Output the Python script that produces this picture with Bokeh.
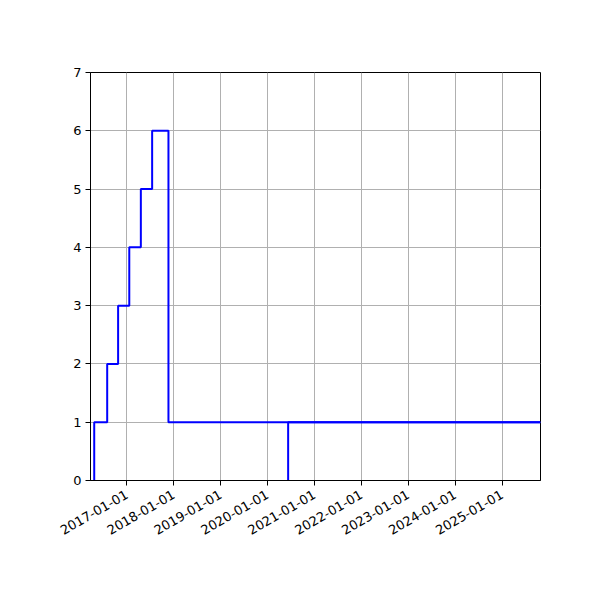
import math
import pandas as pd
from bokeh.plotting import figure
from bokeh.models import Range1d, FixedTicker, DatetimeTickFormatter, ColumnDataSource
from bokeh.embed import file_html
from bokeh.resources import INLINE

# ---- data ----
start_date = "2016-04-22"          # series starts at 0 here
step_dates = ["2016-04-22", "2016-08-01", "2016-10-25", "2017-01-20",
              "2017-04-20", "2017-07-17", "2017-11-21"]
step_counts = [1, 2, 3, 4, 5, 6, 1]
spike_date = "2020-06-10"          # second series: 0 -> 1
spike_counts = [0, 1, 1]
x_start = "2016-03-24"
x_end = "2025-10-27"
tick_labels = ["2017-01-01", "2018-01-01", "2019-01-01", "2020-01-01",
               "2021-01-01", "2022-01-01", "2023-01-01", "2024-01-01",
               "2025-01-01"]
y_ticks = [0, 1, 2, 3, 4, 5, 6, 7]


def ms(d):
    return pd.Timestamp(d).value / 1e6


xs1 = [pd.Timestamp(start_date)] + [pd.Timestamp(d) for d in step_dates] + [pd.Timestamp(x_end)]
ys1 = [0] + step_counts + [step_counts[-1]]
src1 = ColumnDataSource(dict(x=xs1, y=ys1))

xs2 = [pd.Timestamp(spike_date), pd.Timestamp(spike_date), pd.Timestamp(x_end)]
src2 = ColumnDataSource(dict(x=xs2, y=spike_counts))

p = figure(width=584, height=584, x_axis_type="datetime",
           output_backend="svg", toolbar_location=None,
           x_range=Range1d(pd.Timestamp(x_start), pd.Timestamp(x_end)),
           y_range=Range1d(0, 7),
           min_border_left=90, min_border_right=44,
           min_border_top=72, min_border_bottom=104)

p.step("x", "y", source=src1, mode="after", line_color="#0000ff", line_width=2)
p.step("x", "y", source=src2, mode="after", line_color="#0000ff", line_width=2)

p.xaxis.ticker = FixedTicker(ticks=[ms(t) for t in tick_labels])
p.xaxis.formatter = DatetimeTickFormatter(
    years="%Y-%m-%d", months="%Y-%m-%d", days="%Y-%m-%d",
    hours="%Y-%m-%d", minutes="%Y-%m-%d", seconds="%Y-%m-%d",
    milliseconds="%Y-%m-%d", microseconds="%Y-%m-%d")
p.xaxis.major_label_orientation = math.pi / 6
p.yaxis.ticker = FixedTicker(ticks=y_ticks)

for ax in (p.xaxis, p.yaxis):
    ax.major_tick_in = 0
    ax.major_tick_out = 5
    ax.minor_tick_line_color = None
    ax.axis_line_color = "black"
    ax.major_tick_line_color = "black"
    ax.major_label_text_font = "DejaVu Sans"
    ax.major_label_text_font_size = "13px"
    ax.major_label_text_color = "black"
    ax.major_label_standoff = 4
p.xaxis.major_label_standoff = 8

p.grid.grid_line_color = "#b0b0b0"
p.grid.grid_line_width = 1
p.outline_line_color = "black"
p.outline_line_width = 1
p.background_fill_color = "white"
p.border_fill_color = "white"

open("out.html", "w").write(file_html(p, INLINE))
